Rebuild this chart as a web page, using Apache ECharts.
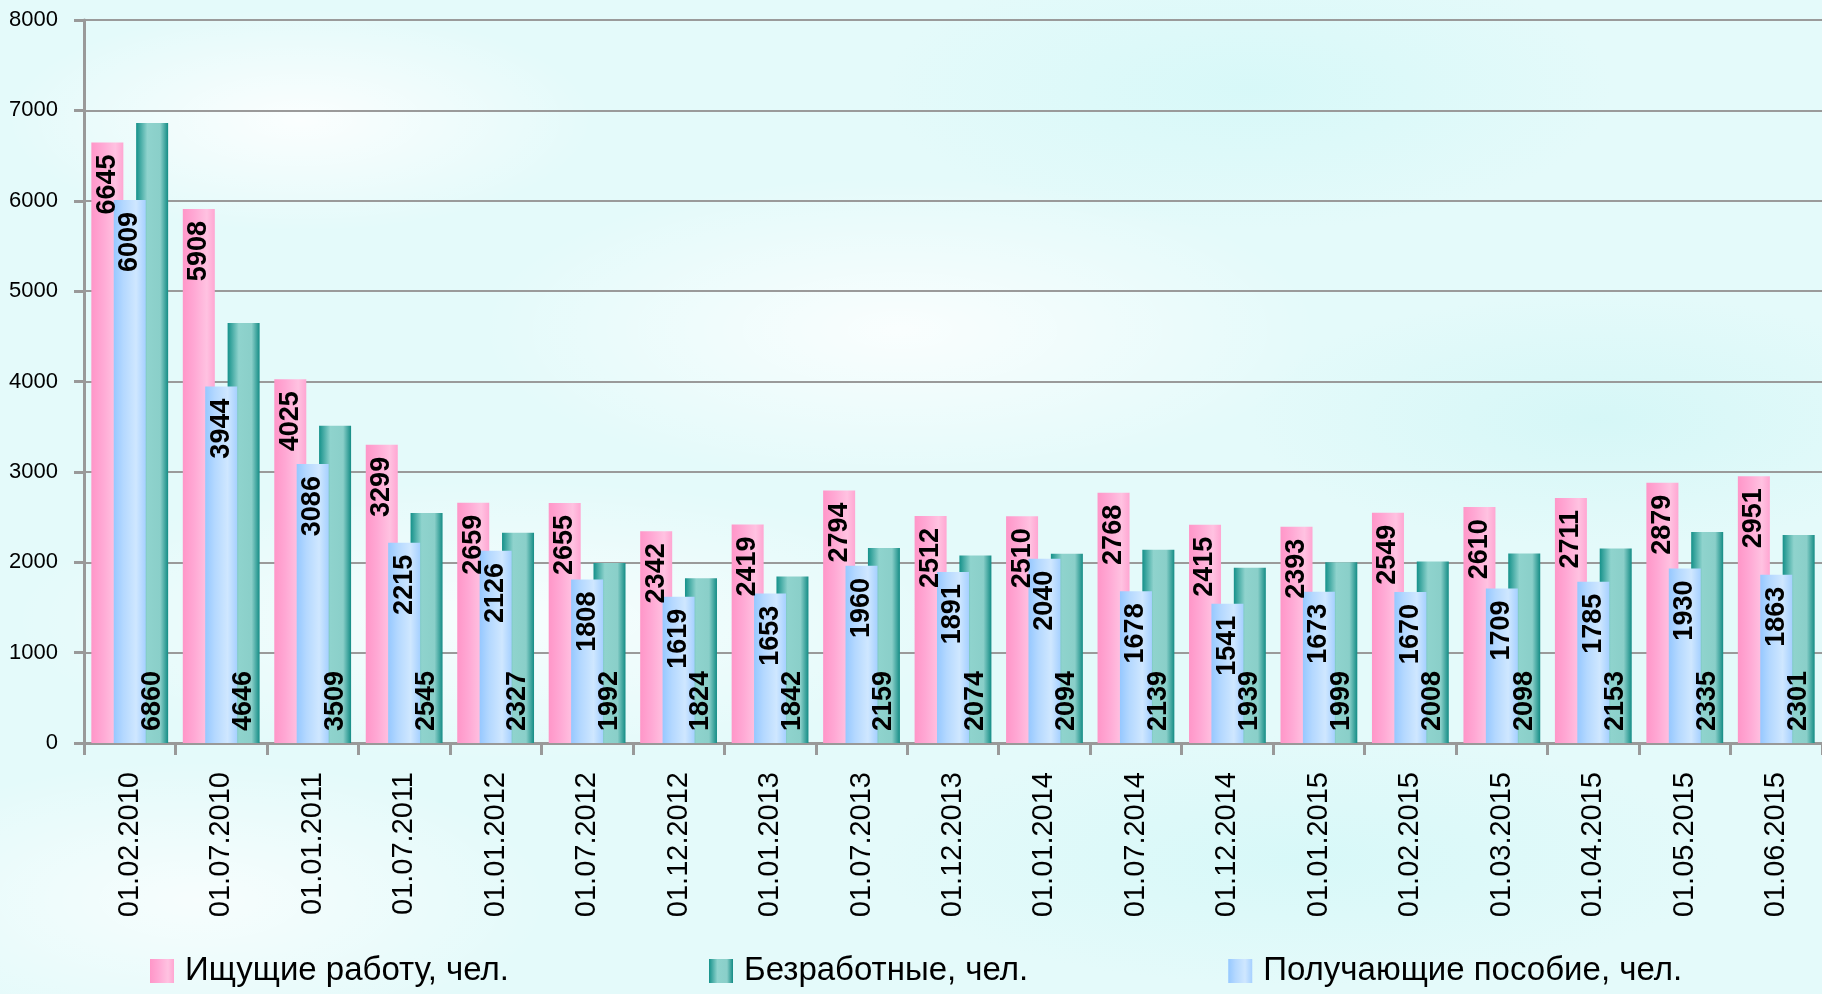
<!DOCTYPE html>
<html>
<head>
<meta charset="utf-8">
<title>Безработица</title>
<script src="https://cdn.jsdelivr.net/npm/echarts@6/dist/echarts.min.js"></script>
<style>
  html, body {
    margin: 0;
    padding: 0;
  }
  body {
    background-color: #e4fafa;
    background-image:
      radial-gradient(ellipse 420px 160px at 300px 120px, rgba(255,255,255,0.85), rgba(255,255,255,0) 70%),
      radial-gradient(ellipse 520px 200px at 1250px 90px, rgba(214,248,248,0.9), rgba(214,248,248,0) 70%),
      radial-gradient(ellipse 600px 220px at 900px 330px, rgba(255,255,255,0.8), rgba(255,255,255,0) 70%),
      radial-gradient(ellipse 500px 180px at 1600px 420px, rgba(210,246,246,0.8), rgba(210,246,246,0) 70%),
      radial-gradient(ellipse 700px 200px at 500px 620px, rgba(255,255,255,0.7), rgba(255,255,255,0) 70%),
      radial-gradient(ellipse 600px 180px at 1300px 860px, rgba(214,248,248,0.9), rgba(214,248,248,0) 70%),
      radial-gradient(ellipse 500px 200px at 200px 900px, rgba(255,255,255,0.7), rgba(255,255,255,0) 70%);
  }
  #chart {
    width: 1822px;
    height: 994px;
  }
</style>
</head>
<body>
<div id="chart"></div>
<script>
const dates = ['01.02.2010', '01.07.2010', '01.01.2011', '01.07.2011', '01.01.2012', '01.07.2012',
  '01.12.2012', '01.01.2013', '01.07.2013', '01.12.2013', '01.01.2014', '01.07.2014', '01.12.2014',
  '01.01.2015', '01.02.2015', '01.03.2015', '01.04.2015', '01.05.2015', '01.06.2015'];

// Ищущие работу
const seeking = [6645, 5908, 4025, 3299, 2659, 2655, 2342, 2419, 2794, 2512, 2510, 2768, 2415, 2393, 2549, 2610, 2711, 2879, 2951];
// Получающие пособие
const benefit = [6009, 3944, 3086, 2215, 2126, 1808, 1619, 1653, 1960, 1891, 2040, 1678, 1541, 1673, 1670, 1709, 1785, 1930, 1863];
// Безработные
const unemployed = [6860, 4646, 3509, 2545, 2327, 1992, 1824, 1842, 2159, 2074, 2094, 2139, 1939, 1999, 2008, 2098, 2153, 2335, 2301];

const names = ['Ищущие работу, чел.', 'Безработные, чел.', 'Получающие пособие, чел.'];

const grad = (stops) => new echarts.graphic.LinearGradient(0, 0, 1, 0,
  stops.map(([offset, color]) => ({ offset, color })));

const pinkFill = grad([[0, '#ff96c8'], [0.35, '#ffa8d4'], [0.75, '#ffc2e1'], [1, '#ffa6d2']]);
const blueFill = grad([[0, '#96c8ff'], [0.3, '#b4d8ff'], [0.7, '#cfe7ff'], [1, '#a6d0ff']]);
const tealFill = grad([[0, '#15918a'], [0.35, '#8fd3cd'], [0.75, '#8acfc9'], [1, '#148c85']]);

const sans = "'Liberation Sans', Arial, sans-serif";
const BAR_W = 32;
const GAP = '-30%';

const valueLabel = (position, align) => ({
  show: true,
  position,
  rotate: 90,
  align,
  verticalAlign: 'middle',
  distance: 12,
  fontFamily: sans,
  fontWeight: 'bold',
  fontSize: 27,
  color: '#000',
});

// bars on axis 0, labels drawn by transparent twins on axis 1 so they sit above all bars
const barSeries = (name, data, fill, z) => ({
  name,
  type: 'bar',
  xAxisIndex: 0,
  data,
  barWidth: BAR_W,
  barGap: GAP,
  z,
  itemStyle: { color: fill },
});

const labelSeries = (name, data, position, align) => ({
  name,
  type: 'bar',
  xAxisIndex: 1,
  data,
  barWidth: BAR_W,
  barGap: GAP,
  z: 10,
  silent: true,
  itemStyle: { color: 'rgba(0,0,0,0)' },
  label: valueLabel(position, align),
});

const chart = echarts.init(document.getElementById('chart'));
const option = {
  backgroundColor: 'transparent',
  animation: false,
  grid: {
    left: 84,
    right: -2,
    top: 20,
    bottom: 251,
  },
  legend: {
    data: names.map((n) => ({ name: n })),
    icon: 'rect',
    left: 150,
    top: 954,
    padding: 0,
    itemWidth: 24,
    itemHeight: 24,
    itemGap: 200,
    textStyle: {
      fontFamily: sans,
      fontSize: 33,
      color: '#000',
      lineHeight: 34,
      padding: [0, 0, 0, 6],
    },
  },
  xAxis: [
    {
      type: 'category',
      data: dates,
      axisLine: { lineStyle: { color: '#999', width: 3 } },
      axisTick: { show: true, length: 12, lineStyle: { color: '#999', width: 3 } },
      axisLabel: {
        interval: 0,
        rotate: 90,
        margin: 29,
        fontFamily: sans,
        fontSize: 29,
        color: '#000',
      },
    },
    {
      type: 'category',
      data: dates,
      position: 'bottom',
      show: false,
    },
  ],
  yAxis: {
    type: 'value',
    min: 0,
    max: 8000,
    interval: 1000,
    axisLine: { show: true, lineStyle: { color: '#999', width: 3 } },
    axisTick: { show: true, length: 10, lineStyle: { color: '#999', width: 3 } },
    splitLine: { lineStyle: { color: '#9a9a9a', width: 2 } },
    axisLabel: {
      margin: 26,
      fontFamily: sans,
      fontSize: 22,
      color: '#000',
      formatter: (v) => String(v),
    },
  },
  series: [
    barSeries(names[0], seeking, pinkFill, 2),
    barSeries(names[2], benefit, blueFill, 3),
    barSeries(names[1], unemployed, tealFill, 2),
    labelSeries(names[0], seeking, 'insideTop', 'right'),
    labelSeries(names[2], benefit, 'insideTop', 'right'),
    labelSeries(names[1], unemployed, 'insideBottom', 'left'),
  ],
};
chart.setOption(option);
</script>
</body>
</html>
